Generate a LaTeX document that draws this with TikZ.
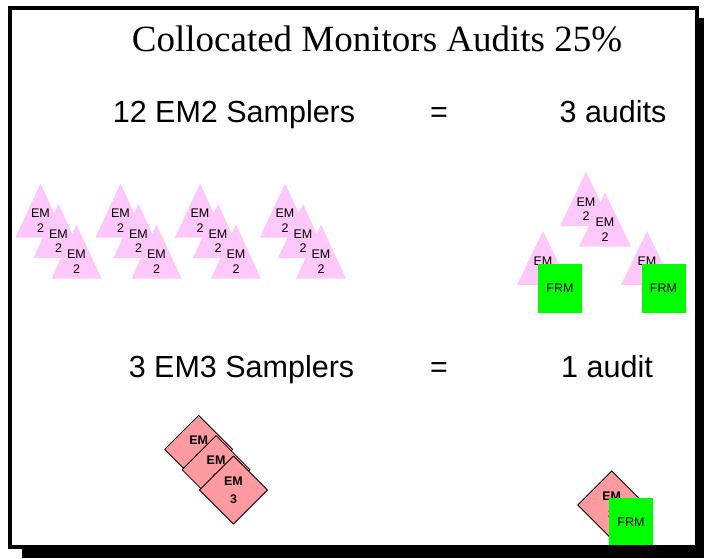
\documentclass[tikz,border=0pt]{standalone}
\usepackage{fontspec}
\setmainfont{Liberation Serif}
\setsansfont{Liberation Sans}
\usepackage{xcolor}
\usepackage{tikz}
\definecolor{emtwo}{RGB}{255,200,250}
\definecolor{emthree}{RGB}{255,155,160}
\definecolor{frmgreen}{RGB}{0,255,0}

\begin{document}
\begin{tikzpicture}[x=1pt, y=-1pt,
  tri/.style={fill=emtwo},
  trilab/.style={font=\sffamily\fontsize{12.5}{14.5}\selectfont, align=center, inner sep=0pt},
  dia/.style={fill=emthree, draw=black, line width=0.8pt, line join=round},
  dialab/.style={font=\sffamily\bfseries\fontsize{12.5}{18}\selectfont, align=center, inner sep=0pt},
  frm/.style={fill=frmgreen, minimum width=44pt, minimum height=49pt, inner sep=0pt, font=\sffamily\fontsize{12.5}{14}\selectfont},
  big/.style={font=\sffamily\fontsize{30.5}{36}\selectfont, anchor=base, inner sep=0pt}]
  \useasboundingbox (0,0) rectangle (704,558);
  % frame with shadow
  \fill[black] (22,18) rectangle (704,558);
  \draw[black, line width=4pt, fill=white] (10,7.5) rectangle (697,546.5);
  % headings
  \node[font=\fontsize{37}{44}\selectfont, anchor=base, inner sep=0pt] (title) at (377,51) {Collocated Monitors Audits 25\%};
  \node[big] (lhs1) at (234,122) {12 EM2 Samplers};
  \node[big] (eq1) at (439,122) {=};
  \node[big] (rhs1) at (613,122) {3 audits};
  \node[big] (lhs2) at (241.5,377) {3 EM3 Samplers};
  \node[big] (eq2) at (439,377) {=};
  \node[big] (rhs2) at (607,377) {1 audit};
  % EM2 samplers, four groups of three
  \fill[tri] (40.5,183.5) -- ++(25,54) -- ++(-50,0) -- cycle;
  \node[trilab] (t1) at (40.5,220.5) {EM\\2};
  \fill[tri] (58.5,204) -- ++(25,54) -- ++(-50,0) -- cycle;
  \node[trilab] (t2) at (58.5,241) {EM\\2};
  \fill[tri] (76.5,224.5) -- ++(25,54) -- ++(-50,0) -- cycle;
  \node[trilab] (t3) at (76.5,261.5) {EM\\2};
  \fill[tri] (120.5,183.5) -- ++(25,54) -- ++(-50,0) -- cycle;
  \node[trilab] (t4) at (120.5,220.5) {EM\\2};
  \fill[tri] (138.5,204) -- ++(25,54) -- ++(-50,0) -- cycle;
  \node[trilab] (t5) at (138.5,241) {EM\\2};
  \fill[tri] (156.5,224.5) -- ++(25,54) -- ++(-50,0) -- cycle;
  \node[trilab] (t6) at (156.5,261.5) {EM\\2};
  \fill[tri] (200,183.5) -- ++(25,54) -- ++(-50,0) -- cycle;
  \node[trilab] (t7) at (200,220.5) {EM\\2};
  \fill[tri] (218,204) -- ++(25,54) -- ++(-50,0) -- cycle;
  \node[trilab] (t8) at (218,241) {EM\\2};
  \fill[tri] (236,224.5) -- ++(25,54) -- ++(-50,0) -- cycle;
  \node[trilab] (t9) at (236,261.5) {EM\\2};
  \fill[tri] (285,183.5) -- ++(25,54) -- ++(-50,0) -- cycle;
  \node[trilab] (t10) at (285,220.5) {EM\\2};
  \fill[tri] (303,204) -- ++(25,54) -- ++(-50,0) -- cycle;
  \node[trilab] (t11) at (303,241) {EM\\2};
  \fill[tri] (321,224.5) -- ++(25,54) -- ++(-50,0) -- cycle;
  \node[trilab] (t12) at (321,261.5) {EM\\2};
  % audited EM2 samplers
  \fill[tri] (586,172) -- ++(26,54) -- ++(-52,0) -- cycle;
  \node[trilab] (t13) at (586,209) {EM\\2};
  \fill[tri] (605,192.5) -- ++(26,54) -- ++(-52,0) -- cycle;
  \node[trilab] (t14) at (605,229.5) {EM\\2};
  \fill[tri] (543,231) -- ++(26,54) -- ++(-52,0) -- cycle;
  \node[trilab] (t15) at (543,268) {EM\\2};
  \fill[tri] (647,231) -- ++(26,54) -- ++(-52,0) -- cycle;
  \node[trilab] (t16) at (647,268) {EM\\2};
  \node[frm] (f1) at (560,288.5) {FRM};
  \node[frm] (f2) at (663.5,288.5) {FRM};
  % EM3 samplers
  \filldraw[dia] (198.7,415.4) -- ++(34,34) -- ++(-34,34) -- ++(-34,-34) -- cycle;
  \node[dialab] (d1) at (198.7,449.4) {EM\\3};
  \filldraw[dia] (216.1,435.7) -- ++(34,34) -- ++(-34,34) -- ++(-34,-34) -- cycle;
  \node[dialab] (d2) at (216.1,469.7) {EM\\3};
  \filldraw[dia] (233.5,456) -- ++(34,34) -- ++(-34,34) -- ++(-34,-34) -- cycle;
  \node[dialab] (d3) at (233.5,490) {EM\\3};
  % audited EM3 sampler
  \filldraw[dia] (611.7,471) -- ++(34,34) -- ++(-34,34) -- ++(-34,-34) -- cycle;
  \node[dialab] (d4) at (611.7,505) {EM\\3};
  \node[frm] (f3) at (631,522.5) {FRM};
  \draw[black, line width=4pt] (10,7.5) rectangle (697,546.5);
\end{tikzpicture}
\end{document}
